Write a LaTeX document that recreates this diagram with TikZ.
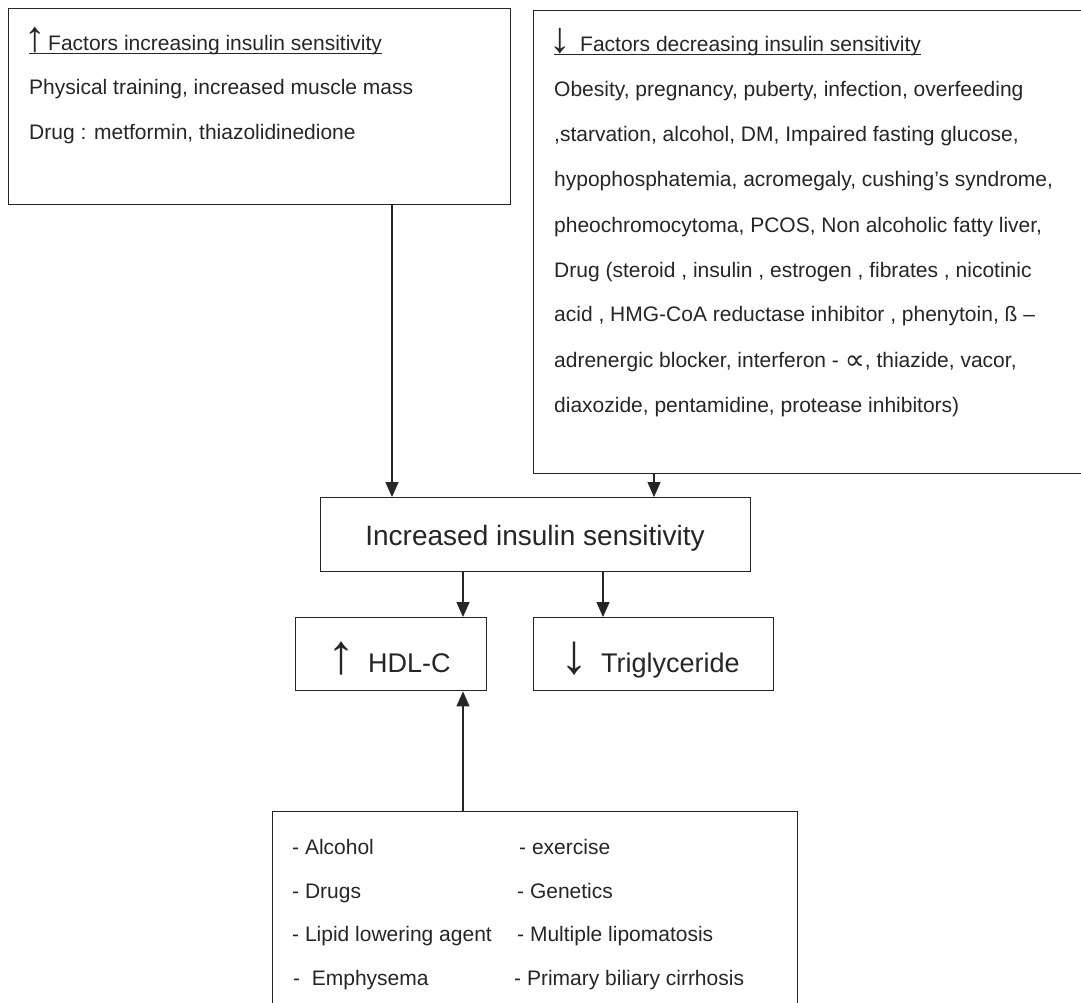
\documentclass[tikz,border=0pt]{standalone}
\usepackage{fontspec}
\setmainfont{Liberation Sans}
\newfontfamily\symf{DejaVu Sans}
\usetikzlibrary{arrows.meta,calc}
\begin{document}
\begin{tikzpicture}[x=1pt,y=-1pt,
  box/.style={draw=black!85, line width=1.4pt, rectangle, inner sep=0pt, anchor=north west},
  txt/.style={anchor=base west, inner sep=0pt, text=black!85, font=\fontsize{21}{25}\selectfont},
  bigtxt/.style={anchor=base west, inner sep=0pt, text=black!85, font=\fontsize{27}{31}\selectfont},
  hdarrow/.style={anchor=base west, inner sep=0pt, text=black!85, font=\fontsize{43}{47}\selectfont},
  bigarrow/.style={anchor=base west, inner sep=0pt, text=black!85, font=\fontsize{56}{60}\selectfont},
  uline/.style={draw=black!85, line width=1pt},
  arr/.style={draw=black!85, line width=1.3pt, -{Triangle[length=15pt,width=13pt]}},
]
\useasboundingbox (0,0) rectangle (1081,1003);
\clip (0,0) rectangle (1081,1003);
\fill[white] (0,0) rectangle (1081,1003);

% boxes
\node[box, minimum width=502, minimum height=196] (lbox) at (8,8) {};
\node[box, minimum width=620, minimum height=463] (rbox) at (533,10) {};
\node[box, minimum width=430, minimum height=74] (cbox) at (320,497) {};
\node[box, minimum width=191, minimum height=73] (hbox) at (295,617) {};
\node[box, minimum width=240, minimum height=73] (tbox) at (533,617) {};
\node[box, minimum width=525, minimum height=260] (bbox) at (272,811) {};

% left box text
\node[hdarrow] (la) at (24,52) {↑};
\node[txt] (lht) at (48,51) {Factors increasing insulin sensitivity};
\draw[uline] ($(lht.base west)+(-19,3)$) -- ($(lht.base east)+(0,3)$);
\node[txt] (l1) at (29,95) {Physical training, increased muscle mass};
\node[txt] (l2) at (29,140) {Drug : metformin, thiazolidinedione};

% right box text
\node[hdarrow] (ra) at (549,53) {↓};
\node[txt] (rht) at (580,52) {Factors decreasing insulin sensitivity};
\draw[uline] ($(rht.base west)+(-26,3)$) -- ($(rht.base east)+(0,3)$);
\node[txt] (r1) at (554,97) {Obesity, pregnancy, puberty, infection, overfeeding};
\node[txt] (r2) at (554,142) {,starvation, alcohol, DM, Impaired fasting glucose,};
\node[txt] (r3) at (554,187) {hypophosphatemia, acromegaly, cushing's syndrome,};
\node[txt] (r4) at (554,232) {pheochromocytoma, PCOS, Non alcoholic fatty liver,};
\node[txt] (r5) at (554,277) {Drug (steroid , insulin , estrogen , fibrates , nicotinic};
\node[txt] (r6) at (554,321) {acid , HMG-CoA reductase inhibitor , phenytoin, ß –};
\node[txt] (r7) at (554,367) {adrenergic blocker, interferon - \raisebox{-2.5pt}{\symf\fontsize{28}{30}\selectfont ∝}, thiazide, vacor,};
\node[txt] (r8) at (554,412) {diaxozide, pentamidine, protease inhibitors)};

% center box
\node[anchor=base, inner sep=0pt, text=black!85, font=\fontsize{28}{32}\selectfont] (ct) at (535,545) {Increased insulin sensitivity};

% HDL / TG
\node[bigarrow] (ha) at (327,673) {↑};
\node[bigtxt] (ht) at (368,672) {HDL-C};
\node[bigarrow] (ta) at (560,673) {↓};
\node[bigtxt] (tt) at (601,672) {Triglyceride};

% bottom box text
\node[txt] (b1) at (292,854) {- Alcohol};
\node[txt] (b2) at (292,898) {- Drugs};
\node[txt] (b3) at (292,941) {- Lipid lowering agent};
\node[txt] (b4) at (293,985) {-\ \ Emphysema};
\node[txt] (c1) at (519,854) {- exercise};
\node[txt] (c2) at (517,898) {- Genetics};
\node[txt] (c3) at (517,941) {- Multiple lipomatosis};
\node[txt] (c4) at (514,985) {- Primary biliary cirrhosis};

% connectors
\coordinate (x1) at (392,0);
\coordinate (x2) at (654,0);
\coordinate (x3) at (463,0);
\coordinate (x4) at (603,0);
\draw[arr] (lbox.south -| x1) -- (cbox.north -| x1);
\draw[arr] (rbox.south -| x2) -- (cbox.north -| x2);
\draw[arr] (cbox.south -| x3) -- (hbox.north -| x3);
\draw[arr] (cbox.south -| x4) -- (tbox.north -| x4);
\draw[arr] (bbox.north -| x3) -- (hbox.south -| x3);
\end{tikzpicture}
\end{document}
